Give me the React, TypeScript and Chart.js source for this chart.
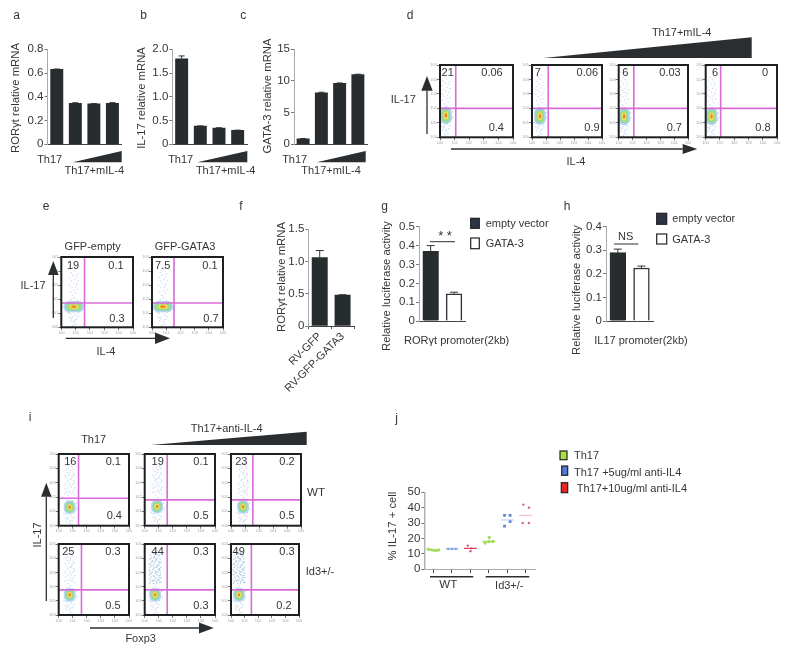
import React, { useEffect, useRef } from "react";
import { Chart, registerables } from "chart.js";

Chart.register(...registerables);

// ---------- values ----------
const doseCategories = ["Th17", "mIL-4 low", "mIL-4 mid", "mIL-4 high"];
const rorgtValues = [0.63, 0.345, 0.34, 0.345];
const rorgtErrors = [0.004, 0.004, 0.002, 0.005];
const il17Values = [1.8, 0.38, 0.34, 0.29];
const il17Errors = [0.06, 0.005, 0.005, 0.005];
const gata3Values = [0.85, 8.1, 9.6, 11.0];
const gata3Errors = [0.03, 0.1, 0.08, 0.06];

const rvCategories = ["RV-GFP", "RV-GFP-GATA3"];
const rvValues = [1.06, 0.48];
const rvErrors = [0.11, 0.005];

const lucCategories = ["empty vector", "GATA-3"];
const lucRorValues = [0.37, 0.145];
const lucRorErrors = [0.03, 0.008];
const lucIl17Values = [0.29, 0.225];
const lucIl17Errors = [0.015, 0.008];

// flow plots, log-decade units on both axes
const dGateX = [1.08, 1.16, 1.09, 1.05];
const dGateY = [2.0, 2.0, 2.0, 2.0];
const dCoreX = [0.4, 0.56, 0.39, 0.41];
const dCoreY = [1.51, 1.46, 1.44, 1.44];
const dPercents = [["21", "0.06", "0.4"], ["7", "0.06", "0.9"], ["6", "0.03", "0.7"], ["6", "0", "0.8"]];

const eGateX = [1.62, 1.55];
const eGateY = [1.73, 1.73];
const eCoreX = [0.87, 0.77];
const eCoreY = [1.47, 1.47];
const ePercents = [["19", "0.1", "0.3"], ["7.5", "0.1", "0.7"]];

const iGateX = [1.41, 1.6, 1.56, 1.62, 1.6, 1.5];
const iGateY = [1.91, 1.8, 1.8, 1.77, 1.77, 1.77];
const iCoreX = [0.78, 0.88, 0.86, 0.78, 0.74, 0.59];
const iCoreY = [1.29, 1.34, 1.32, 1.42, 1.42, 1.42];
const iPercents = [["16", "0.1", "0.4"], ["19", "0.1", "0.5"], ["23", "0.2", "0.5"], ["25", "0.3", "0.5"], ["44", "0.3", "0.3"], ["49", "0.3", "0.2"]];

// event clouds, offsets from each population's centre
const cloudLower = [[-0.25, -0.5], [-0.1, -0.72], [0.12, -0.6], [0.2, -0.9], [-0.22, -1.02], [0.02, -1.1], [0.15, -1.25], [-0.06, -1.33], [0.31, -0.4], [-0.33, -0.2], [0.36, 0.1], [-0.36, 0.22], [0.22, 0.45], [-0.2, 0.5], [0.03, 0.62], [0.42, -0.25], [-0.15, -0.86], [0.06, -0.95], [0.28, -0.7], [-0.28, -0.77], [0.47, 0.25], [-0.4, -0.42], [0.5, -0.1], [-0.12, 0.3]];
const cloudUpperA = [[-0.1, 0.8], [0.15, 0.95], [-0.22, 1.05], [0.05, 1.15], [0.28, 1.22], [-0.12, 1.34], [0.12, 1.42], [-0.28, 1.5], [0.22, 1.6], [0, 1.68], [-0.17, 1.8], [0.3, 1.84], [0.08, 1.95], [-0.25, 2.05], [0.18, 2.14], [-0.05, 2.24], [0.26, 2.33], [-0.18, 2.42], [0.06, 2.55], [-0.08, 2.7], [0.16, 2.82]];
const cloudUpperB = [[0.34, 0.86], [-0.34, 0.94], [-0.02, 1.02], [0.2, 1.1], [-0.3, 1.26], [0.36, 1.36], [0.02, 1.52], [-0.36, 1.64], [0.34, 1.72], [-0.08, 1.9], [0.14, 2.02], [-0.32, 2.2], [0.32, 2.24], [0.02, 2.38], [-0.26, 2.6], [0.24, 2.66], [-0.14, 2.92], [0.1, 3.02]];
const cloudUpperC = [[-0.4, 0.8], [0.42, 0.9], [0.1, 0.84], [-0.14, 0.98], [0.3, 1.02], [-0.4, 1.12], [0.42, 1.2], [-0.04, 1.28], [0.24, 1.34], [-0.4, 1.42], [0.4, 1.52], [-0.2, 1.58], [0.1, 1.62], [-0.42, 1.76], [0.24, 1.78], [0.42, 1.92], [-0.34, 1.94], [-0.1, 2.08], [0.28, 2.08], [-0.42, 2.14], [0.4, 2.3], [-0.22, 2.32], [0.12, 2.46], [-0.38, 2.5], [0.36, 2.52], [-0.06, 2.62], [0.3, 2.78], [-0.32, 2.8], [-0.02, 2.88], [0.24, 2.98], [-0.22, 3.08], [0.02, 3.14]];
const coreTall = [[0, -0.2], [0, 0], [0, 0.2]];
const coreWide = [[-0.3, 0], [0, 0], [0.3, 0]];
const coreRound = [[0, -0.08], [0, 0.08]];

const jWtTh17 = [[-0.28, 13], [-0.14, 12.6], [0, 12.3], [0.14, 12], [0.28, 12.5]];
const jWt5 = [[-0.2, 13.2], [0, 13.2], [0.2, 13.2]];
const jWt10 = [[-0.14, 15.3], [0.05, 13.5], [0, 11.7]];
const jKoTh17 = [[-0.2, 17], [0.02, 20.6], [0, 18], [0.22, 18]];
const jKo5 = [[-0.15, 35], [0.15, 35], [0.15, 31], [-0.15, 28]];
const jKo10 = [[-0.13, 42], [0.17, 40], [-0.17, 30], [0.17, 30]];
const jMeans = [12.5, 13.2, 13.5, 18, 32, 35];

// ---------- drawing helpers ----------
const FONT = '"Liberation Sans", Arial, sans-serif';
const INK = "#333637";
const BAR = "#272c2e";
const MAGENTA = "#d86bd8";

const errorBars = {
  id: "errorBars",
  afterDatasetsDraw(chart: any) {
    const errs = chart.options.plugins.errorBars?.errors;
    if (!errs) return;
    const { ctx } = chart;
    const meta = chart.getDatasetMeta(0);
    const y = chart.scales.y;
    ctx.save();
    ctx.strokeStyle = "#333";
    ctx.lineWidth = 1;
    meta.data.forEach((bar: any, i: number) => {
      const v = chart.data.datasets[0].data[i];
      const top = y.getPixelForValue(v + errs[i]);
      const base = y.getPixelForValue(v);
      const w = chart.options.plugins.errorBars.cap;
      ctx.beginPath();
      ctx.moveTo(bar.x, base);
      ctx.lineTo(bar.x, top);
      ctx.moveTo(bar.x - w, top);
      ctx.lineTo(bar.x + w, top);
      ctx.stroke();
    });
    ctx.restore();
  },
};

const frameBox = {
  id: "frameBox",
  afterDraw(chart: any) {
    if (!chart.options.plugins.frameBox?.on) return;
    const { ctx, chartArea: a } = chart;
    ctx.save();
    ctx.strokeStyle = "#1d1f20";
    ctx.lineWidth = 2;
    ctx.strokeRect(a.left, a.top, a.right - a.left, a.bottom - a.top);
    ctx.restore();
  },
};

function CanvasChart({ box, config }: any) {
  const ref = useRef<HTMLCanvasElement>(null);
  useEffect(() => {
    const c = new Chart(ref.current as any, config);
    return () => c.destroy();
  }, []);
  return (
    <canvas
      ref={ref}
      width={box.w}
      height={box.h}
      style={{ position: "absolute", left: box.x, top: box.y, width: box.w, height: box.h, display: "block", filter: "blur(0.4px)" }}
    />
  );
}

function barPanel(p: any) {
  const x = Math.floor(p.left - 26);
  const y = Math.floor(p.top - 10);
  const r = Math.ceil(p.right + 4);
  const b = Math.ceil(p.bottom + (p.below || 4));
  const box = { x, y, w: r - x, h: b - y };
  const config: any = {
    type: "bar",
    data: {
      labels: p.categories,
      datasets: [{
        data: p.values,
        backgroundColor: p.colors || BAR,
        borderColor: p.borderColors || BAR,
        borderWidth: p.borderColors ? 1.5 : 0,
        barThickness: p.thickness,
      }],
    },
    plugins: [errorBars],
    options: {
      responsive: false,
      animation: false,
      layout: { padding: { top: p.top - y, right: r - p.right, left: 0, bottom: 0 } },
      plugins: { legend: { display: false }, tooltip: { enabled: false }, errorBars: { errors: p.errors, cap: p.cap || 3 } },
      scales: {
        x: {
          grid: { display: true, drawOnChartArea: false, drawTicks: !!p.xLabels, tickLength: 3, color: "#555" },
          border: { color: "#444", width: 1 },
          ticks: {
            display: !!p.xLabels,
            autoSkip: false,
            minRotation: p.xLabels ? 45 : 0,
            maxRotation: p.xLabels ? 45 : 0,
            padding: 1,
            color: INK,
            font: { family: FONT, size: 11 },
          },
          afterFit: (s: any) => { s.height = b - p.bottom; },
        },
        y: {
          min: 0,
          max: p.max,
          grid: { display: true, drawOnChartArea: false, tickLength: 3, color: "#777" },
          border: { color: "#aaa", width: 1 },
          ticks: {
            stepSize: p.step,
            autoSkip: false,
            padding: 1,
            color: INK,
            font: { family: FONT, size: p.tickSize || 11.5 },
            callback: (v: number) => (Math.abs(v) < 1e-9 ? "0" : v.toFixed(p.decimals)),
          },
          afterFit: (s: any) => { s.width = p.left - x; },
        },
      },
    },
  };
  return { box, config };
}

function flowPanel(p: any) {
  const [l, t, rr, bb] = p.frame;
  const x = Math.floor(l - 13);
  const y = Math.floor(t - 4);
  const r = Math.ceil(rr + 4);
  const b = Math.ceil(bb + 11);
  const box = { x, y, w: r - x, h: b - y };
  const at = (list: number[][], k = 1) => list.map(([dx, dy]) => ({ x: p.cx + dx * k, y: p.cy + dy * k }));
  const ring = (radius: number, color: string, k: number) => ({
    data: at(p.shape, k),
    backgroundColor: color,
    borderWidth: 0,
    pointRadius: radius,
    showLine: false,
  });
  const dots = (list: number[][], color: string) => ({
    data: at(list),
    backgroundColor: color,
    borderWidth: 0,
    pointRadius: 0.8,
    showLine: false,
  });
  const gate = (pts: any[]) => ({
    data: pts,
    showLine: true,
    borderColor: MAGENTA,
    borderWidth: 1.6,
    pointRadius: 0,
  });
  const upper = p.level === 3 ? [...cloudUpperA, ...cloudUpperB, ...cloudUpperC] : p.level === 2 ? [...cloudUpperA, ...cloudUpperB] : cloudUpperA;
  const axis = (side: "x" | "y") => ({
    min: 0,
    max: 5,
    grid: { display: true, drawOnChartArea: false, tickLength: 3, color: "#777" },
    border: { display: false },
    ticks: {
      stepSize: 1,
      padding: 0,
      maxRotation: 0,
      color: "#a5a5a5",
      font: { family: FONT, size: 4 },
      callback: (v: number) => "10" + v,
    },
    afterFit: (s: any) => {
      if (side === "x") s.height = b - bb;
      else s.width = l - x;
    },
  });
  const config: any = {
    type: "scatter",
    data: {
      datasets: [
        gate([{ x: p.gx, y: 0 }, { x: p.gx, y: 5 }]),
        gate([{ x: 0, y: p.gy }, { x: 5, y: p.gy }]),
        ring(1.1, "#ef7a30", 0.35),
        ring(2.2, "#eee05a", 0.55),
        ring(3.5, "#a8da78", 0.85),
        ring(4.6, "#8ed6d8", 1),
        ring(6, "#bcd6f2", 1),
        dots(upper, p.level === 3 ? "rgba(70,130,190,0.42)" : "rgba(95,140,215,0.3)"),
        dots(cloudLower, "rgba(95,140,215,0.36)"),
      ],
    },
    plugins: [frameBox],
    options: {
      responsive: false,
      animation: false,
      layout: { padding: { top: t - y, right: r - rr, left: 0, bottom: 0 } },
      plugins: { legend: { display: false }, tooltip: { enabled: false }, frameBox: { on: true } },
      scales: { x: axis("x"), y: axis("y") },
    },
  };
  return { box, config };
}

function jPanel() {
  const left = 424.3, right = 535, top = 492.3, bottom = 571;
  const x = 400, y = 484, r = 540, b = 577;
  const groupPts = (list: number[][], i: number) => list.map(([dx, v]) => ({ x: i + dx, y: v }));
  const pts = (list: number[][], i: number, color: string, radius: number, style = "circle") => ({
    data: groupPts(list, i),
    backgroundColor: color,
    borderWidth: 0,
    pointRadius: radius,
    pointStyle: style,
    showLine: false,
  });
  const mean = (i: number, color: string, width: number) => ({
    data: [{ x: i - 0.35, y: jMeans[i] }, { x: i + 0.35, y: jMeans[i] }],
    showLine: true,
    borderColor: color,
    borderWidth: width,
    pointRadius: 0,
  });
  const config: any = {
    type: "scatter",
    data: {
      datasets: [
        mean(0, "#a4dc63", 1.4), mean(1, "#8fb0ea", 1), mean(2, "#d9435a", 1.3),
        mean(3, "#a4dc63", 1.4), mean(4, "#b3c9ee", 1), mean(5, "#f2b6c4", 1),
        pts(jWtTh17, 0, "#a4dc63", 1.6), pts(jWt5, 1, "#6f94e0", 1.6, "rect"), pts(jWt10, 2, "#d9596e", 1.2),
        pts(jKoTh17, 3, "#a4dc63", 1.7), pts(jKo5, 4, "#5f86d8", 2, "rect"), pts(jKo10, 5, "#d9608a", 1.2),
      ],
    },
    options: {
      responsive: false,
      animation: false,
      layout: { padding: { top: top - y, right: r - right, left: 0, bottom: 0 } },
      plugins: { legend: { display: false }, tooltip: { enabled: false } },
      scales: {
        x: {
          min: -0.5,
          max: 5.5,
          grid: { display: true, drawOnChartArea: false, tickLength: 4, color: "#444" },
          border: { color: "#aaa" },
          ticks: { stepSize: 1, display: false },
          afterBuildTicks: (s: any) => { s.ticks = [0, 1, 2, 3, 4, 5].map((value) => ({ value })); },
          afterFit: (s: any) => { s.height = b - bottom; },
        },
        y: {
          min: 0,
          max: 50,
          grid: { display: true, drawOnChartArea: false, tickLength: 3, color: "#777" },
          border: { color: "#a9b5b5", width: 1.5 },
          ticks: { stepSize: 10, autoSkip: false, padding: 1, color: INK, font: { family: FONT, size: 11.5 } },
          afterFit: (s: any) => { s.width = left - x; },
        },
      },
    },
  };
  return { box: { x, y, w: r - x, h: b - y }, config };
}

// ---------- layout ----------
const charts: any[] = [
  barPanel({ categories: doseCategories, values: rorgtValues, errors: rorgtErrors, left: 47.5, right: 121.7, top: 49.3, bottom: 147.7, max: 0.8, step: 0.2, decimals: 1, thickness: 12.3 }),
  barPanel({ categories: doseCategories, values: il17Values, errors: il17Errors, left: 172.3, right: 247, top: 49.3, bottom: 147.7, max: 2, step: 0.5, decimals: 1, thickness: 12.3 }),
  barPanel({ categories: doseCategories, values: gata3Values, errors: gata3Errors, left: 294, right: 367, top: 49.3, bottom: 147.7, max: 15, step: 5, decimals: 0, thickness: 12.3 }),
  barPanel({ categories: rvCategories, values: rvValues, errors: rvErrors, left: 308.3, right: 354, top: 229.3, bottom: 326, max: 1.5, step: 0.5, decimals: 1, thickness: 15.3, below: 66, xLabels: true, cap: 4 }),
  barPanel({ categories: lucCategories, values: lucRorValues, errors: lucRorErrors, left: 419, right: 465.7, top: 226.7, bottom: 324.7, max: 0.5, step: 0.1, decimals: 1, thickness: 15.7, colors: [BAR, "#ffffff"], borderColors: [BAR, "#333"], cap: 4 }),
  barPanel({ categories: lucCategories, values: lucIl17Values, errors: lucIl17Errors, left: 606, right: 653.3, top: 226.7, bottom: 325, max: 0.4, step: 0.1, decimals: 1, thickness: 15.7, colors: [BAR, "#ffffff"], borderColors: [BAR, "#333"], cap: 4 }),
  jPanel(),
];

const dFrames = [[440, 63.3, 514.3, 137.3], [532, 63.3, 604, 137.3], [618.7, 63.3, 690, 137.3], [705.7, 63.3, 778.7, 137.3]];
dFrames.forEach((frame, i) => charts.push(flowPanel({ frame, gx: dGateX[i], gy: dGateY[i], cx: dCoreX[i], cy: dCoreY[i], level: 1, shape: coreTall })));
const eFrames = [[61.3, 255, 134.3, 327.3], [152, 255, 225, 327.3]];
eFrames.forEach((frame, i) => charts.push(flowPanel({ frame, gx: eGateX[i], gy: eGateY[i], cx: eCoreX[i], cy: eCoreY[i], level: 1, shape: coreWide })));
const iFrames = [[58.7, 452.3, 130.7, 525.7], [144.7, 452.3, 216.7, 525.7], [231, 452.3, 302.7, 525.7], [58.7, 542.3, 130.7, 615], [144.7, 542.3, 216.7, 615], [231, 542.3, 301, 615]];
iFrames.forEach((frame, i) => charts.push(flowPanel({ frame, gx: iGateX[i], gy: iGateY[i], cx: iCoreX[i], cy: iCoreY[i], level: i <= 3 ? 2 : 3, shape: coreRound })));

type Label = [number, number, string, number?, number?];
const percentSpots = (rows: string[][], spots: number[][][]): Label[] =>
  rows.flatMap((r, i) => r.map((s, j) => [spots[i][j][0], spots[i][j][1], s] as Label));

const labels: Label[] = [
  [16.7, 15, "a", 12], [143.7, 15, "b", 12], [243.3, 15, "c", 12], [410, 15, "d", 12],
  [46, 205.7, "e", 12], [241, 205.7, "f", 12], [384.7, 205.7, "g", 12], [567, 205.7, "h", 12],
  [30, 417.3, "i", 12], [396.7, 418.3, "j", 12],
  [16, 98, "RORγt relative mRNA", 11.3, -90], [141.7, 98, "IL-17 relative mRNA", 11.3, -90], [268.3, 96, "GATA-3 relative mRNA", 11.3, -90],
  [281.7, 277, "RORγt relative mRNA", 11.3, -90], [386.7, 286, "Relative luciferase activity", 11.3, -90], [576.7, 290, "Relative luciferase activity", 11.3, -90],
  [393.3, 526, "% IL-17 + cell", 11.3, -90], [37.3, 535, "IL-17", 11, -90],
  [49.7, 159.3, "Th17"], [94.3, 170.3, "Th17+mIL-4"], [180.7, 159.3, "Th17"], [225.7, 170.3, "Th17+mIL-4"], [294.7, 159.3, "Th17"], [331, 170.3, "Th17+mIL-4"],
  [681.7, 31.7, "Th17+mIL-4"], [403.3, 98.7, "IL-17"], [576, 160.7, "IL-4"],
  [92.7, 245.7, "GFP-empty"], [185, 245.7, "GFP-GATA3"], [33, 284.7, "IL-17"], [106, 350.7, "IL-4"],
  [456.7, 339.7, "RORγt promoter(2kb)"], [641, 339.7, "IL17 promoter(2kb)"], [445, 235, "* *", 13], [625.7, 236.3, "NS"],
  [93.7, 438.7, "Th17"], [226.7, 428, "Th17+anti-IL-4"], [316, 493.3, "WT", 11.5], [320, 571, "Id3+/-"], [140.7, 638, "Foxp3"],
  [448.3, 584.7, "WT", 11.5], [509.3, 584.7, "Id3+/-"],
  ...percentSpots(dPercents, [
    [[447.7, 72], [492, 72], [496.3, 127.3]], [[537.7, 72], [587.3, 72], [592, 127.3]],
    [[625.3, 72], [670, 72], [674.3, 127.3]], [[715, 72], [765, 72], [763, 127.3]],
  ]),
  ...percentSpots(ePercents, [[[73, 265], [116, 265], [117, 317.7]], [[162.7, 265], [210, 265], [211, 317.7]]]),
  ...percentSpots(iPercents, [
    [[70.3, 461], [113.3, 461], [114.3, 515]], [[157.7, 461], [201, 461], [201, 515]], [[241.3, 461], [287, 461], [287, 515]],
    [[68.3, 550.7], [113, 550.7], [113, 605]], [[157.7, 550.7], [201, 550.7], [201, 605]], [[238.7, 550.7], [287, 550.7], [284, 605]],
  ]),
];

const leftLabels: [number, number, string][] = [
  [485.7, 223.3, "empty vector"], [485.7, 243.3, "GATA-3"],
  [672.3, 218, "empty vector"], [672.3, 239, "GATA-3"],
  [574, 454.7, "Th17"], [574, 471.7, "Th17 +5ug/ml anti-IL4"], [576.7, 487.7, "Th17+10ug/ml anti-IL4"],
];

const wedges = [
  "72.7,162.3 121.7,151 121.7,162.3", "197.3,162.3 247.3,151 247.3,162.3", "316.7,162.3 365.7,151 365.7,162.3",
  "543.3,58 751.7,37.3 751.7,58", "151,445 306.7,431.7 306.7,445",
];
// tip, then the two base corners of each arrow head, plus the shaft's far end
const upArrows = [[427, 76, 90.7, 134, 5.7], [53.3, 261, 275, 318, 5.3], [46.3, 482.7, 496.7, 601, 5.2]];
const rightArrows = [[149, 697.3, 682.7, 451, 5], [338.3, 170, 155, 65.7, 5.7], [628, 213.7, 199, 90, 5.5]];
const rules: number[][] = [[430, 241.7, 455, 241.7, 1], [614, 244, 638.3, 244, 1], [430, 576.7, 473.3, 576.7, 1.4], [485.7, 576.7, 529.3, 576.7, 1.4]];
const keys = [
  [470.7, 218.3, 8.6, 10, "#2c3445", "#222"], [470.7, 238, 8.6, 10.7, "#ffffff", "#222"],
  [656.7, 213.3, 10, 11, "#2c3445", "#222"], [656.7, 234, 10, 10, "#ffffff", "#222"],
  [560, 451, 7, 8.7, "#a8e23c", "#222"], [561.7, 466, 6, 9.3, "#4f78d8", "#222"], [561.3, 482.7, 6.4, 10, "#e02828", "#222"],
];

export default function App() {
  return (
    <div style={{ position: "absolute", left: 0, top: 0, width: 790, height: 654, background: "#fff", overflow: "hidden", fontFamily: FONT, color: INK }}>
      {charts.map((c, i) => <CanvasChart key={i} box={c.box} config={c.config} />)}
      <svg width={790} height={654} style={{ position: "absolute", left: 0, top: 0 }}>
        {wedges.map((pts, i) => <polygon key={i} points={pts} fill="#2a2e30" />)}
        {upArrows.map(([x, tip, base, end, hw], i) => (
          <g key={i}>
            <line x1={x} y1={base} x2={x} y2={end} stroke="#2a2e30" strokeWidth={1.3} />
            <polygon points={`${x},${tip} ${x - hw},${base} ${x + hw},${base}`} fill="#2a2e30" />
          </g>
        ))}
        {rightArrows.map(([y, tip, base, end, hw], i) => (
          <g key={i}>
            <line x1={end} y1={y} x2={base} y2={y} stroke="#2a2e30" strokeWidth={1.3} />
            <polygon points={`${tip},${y} ${base},${y - hw} ${base},${y + hw}`} fill="#2a2e30" />
          </g>
        ))}
        {rules.map(([a, b, c, d, w], i) => <line key={i} x1={a} y1={b} x2={c} y2={d} stroke="#2a2e30" strokeWidth={w} />)}
        {keys.map(([x, y, w, h, fill, stroke], i) => (
          <rect key={i} x={x as number} y={y as number} width={w as number} height={h as number} fill={fill as string} stroke={stroke as string} strokeWidth={1.2} />
        ))}
      </svg>
      {labels.map(([x, y, text, size, rot], i) => (
        <span key={i} style={{ position: "absolute", left: x, top: y, fontSize: size || 11, lineHeight: 1, whiteSpace: "nowrap", transform: `translate(-50%,-50%)${rot ? ` rotate(${rot}deg)` : ""}` }}>{text}</span>
      ))}
      {leftLabels.map(([x, y, text], i) => (
        <span key={i} style={{ position: "absolute", left: x, top: y, fontSize: 11, lineHeight: 1, whiteSpace: "nowrap", transform: "translateY(-50%)" }}>{text}</span>
      ))}
    </div>
  );
}
